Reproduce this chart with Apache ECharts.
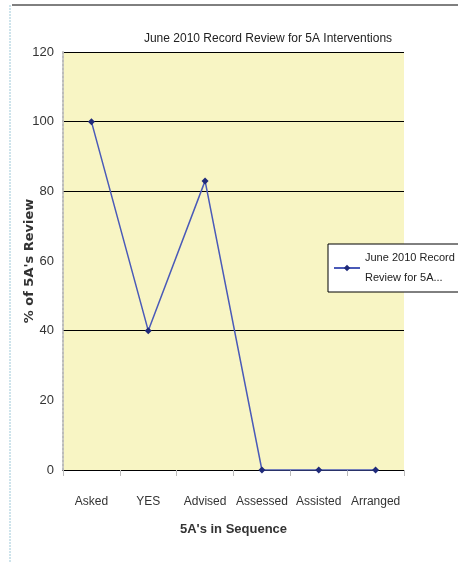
<!DOCTYPE html>
<html><head><meta charset="utf-8">
<script src="https://cdn.jsdelivr.net/npm/echarts@6/dist/echarts.min.js"></script>
<style>html,body{margin:0;padding:0;background:#fff}#c{width:458px;height:563px}</style>
</head><body><div id="c"></div>
<script>
const categories = ['Asked','YES','Advised','Assessed','Assisted','Arranged'];
const values = [100, 40, 83, 0, 0, 0];
const seriesName = 'June 2010 Record Review for 5A Interventions';
const title = 'June 2010 Record Review for 5A Interventions';
const yTicks = [0,20,40,60,80,100,120];
const FONT = "'Liberation Sans Narrow','Arial Narrow','Liberation Sans',sans-serif";
const chart = echarts.init(document.getElementById('c'));
chart.setOption({
  animation:false,
  title:{text:title,left:263,top:28,textAlign:'center',textStyle:{fontFamily:FONT,fontSize:12,fontWeight:'normal',color:'#222'}},
  grid:{left:63,right:54,top:52,bottom:93,show:true,backgroundColor:'#f8f5c4',borderWidth:0},
  legend:{left:328,top:244,orient:'vertical',backgroundColor:'#fff',borderColor:'#000',borderWidth:1,
    padding:[4,10,4,5],itemWidth:26,itemHeight:8,itemGap:0,
    formatter:()=> 'June 2010 Record\nReview for 5A...',
    textStyle:{fontFamily:FONT,fontSize:11,color:'#222',lineHeight:20},
    data:[{name:seriesName}]},
  xAxis:{type:'category',data:categories,boundaryGap:true,
    name:"5A's in Sequence",nameLocation:'middle',nameGap:53,
    nameTextStyle:{fontFamily:FONT,fontSize:13,fontWeight:'bold',color:'#333'},
    axisLine:{lineStyle:{color:'#000',width:1}},
    axisTick:{show:true,length:6,lineStyle:{color:'#bbb'}},
    axisLabel:{interval:0,fontFamily:FONT,fontSize:12,color:'#333',margin:26}},
  yAxis:{type:'value',min:0,max:120,interval:20,
    name:"% of 5A's Review",nameLocation:'middle',nameGap:27,nameMoveOverlap:false,
    nameTextStyle:{fontFamily:'DejaVu Sans',fontSize:13,fontWeight:'bold',color:'#333'},
    axisLine:{show:true,lineStyle:{color:'#bbb',width:2,type:'dotted'}},
    axisTick:{show:false},
    axisLabel:{fontFamily:FONT,fontSize:13,color:'#333',margin:9},
    splitLine:{show:true,lineStyle:{color:['#000','rgba(0,0,0,0)','#000','rgba(0,0,0,0)','#000','#000','#000'],width:1}}},
  series:[{name:seriesName,type:'line',data:values,symbol:'path://M0,4L4,0L8,4L4,8Z',symbolSize:7,
    lineStyle:{color:'#4a5ab8',width:1.5},itemStyle:{color:'#1f2a7a'}}],
  graphic:[
    {type:'line',shape:{x1:12,y1:5,x2:458,y2:5},style:{stroke:'#000',lineWidth:1}},
    {type:'line',shape:{x1:10,y1:5,x2:10,y2:563},style:{stroke:'#9cc8d8',lineWidth:1,lineDash:[2,1]}}
  ]
});
</script></body></html>
